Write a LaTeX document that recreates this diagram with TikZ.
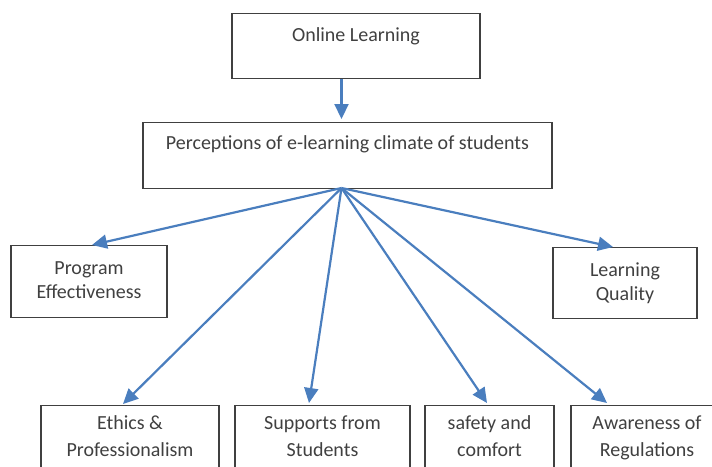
\documentclass[tikz,border=0pt]{standalone}
\usepackage{fontspec}
\setmainfont{Carlito}
\usetikzlibrary{arrows.meta,calc}
\definecolor{linkblue}{RGB}{74,126,190}
\definecolor{boxtext}{RGB}{64,64,64}
\tikzset{
  box/.style={draw=black!75, line width=1.2pt, anchor=north, inner xsep=4pt, inner ysep=4pt,
    align=center, text=boxtext, font=\fontsize{20}{24}\selectfont},
  lowbox/.style={box, font=\fontsize{20}{27}\selectfont, text height=47, text depth=60},
  link/.style={draw=linkblue, line width=2.2pt, -{Triangle[length=15pt,width=14pt]}}
}
\begin{document}
\begin{tikzpicture}[x=1pt,y=-1pt]
\useasboundingbox (0,0) rectangle (712,466);
\clip (0,0) rectangle (712,466);
\node[box, minimum width=248, text height=24, text depth=33] (online) at (356,13) {Online Learning};
\node[box, minimum width=409, text height=23, text depth=35] (percep) at (347.5,122) {Perceptions of e-learning climate of students};
\coordinate (hub) at (341.5,188);
\node[box, minimum width=156, text height=49, text depth=15] (progeff) at (89,245) {Program\\Effectiveness};
\node[box, minimum width=144, text height=49, text depth=14] (lquality) at (625,247) {Learning\\Quality};
\node[lowbox, minimum width=178] (ethics) at (130,405) {Ethics \&\\Professionalism};
\node[lowbox, minimum width=175] (supports) at (322.5,405) {Supports from\\Students};
\node[lowbox, minimum width=129] (safety) at (489.5,405) {safety and\\comfort};
\node[lowbox, minimum width=152] (aware) at (647,405) {Awareness of\\Regulations};
\draw[link] (online.south -| hub) -- ($(percep.north -| hub)+(0,-3)$);
\draw[link] (hub) -- ($(progeff.north)+(3,0)$);
\draw[link] (hub) -- ($(lquality.north)+(-12,0)$);
\draw[link] (hub) -- ($(ethics.north)+(-7,-1)$);
\draw[link] (hub) -- ($(supports.north)+(-13.5,-2)$);
\draw[link] (hub) -- ($(safety.north)+(-2.5,-2)$);
\draw[link] (hub) -- ($(aware.north)+(-40,-2)$);
\end{tikzpicture}
\end{document}
